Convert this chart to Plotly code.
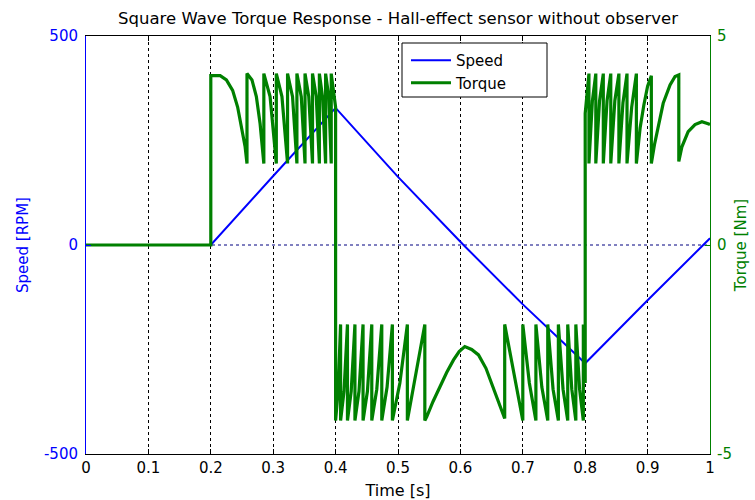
import plotly.graph_objects as go

# ---- data ----
time_ticks = [0, 0.1, 0.2, 0.3, 0.4, 0.5, 0.6, 0.7, 0.8, 0.9, 1.0]
time_labels = ["0", "0.1", "0.2", "0.3", "0.4", "0.5", "0.6", "0.7", "0.8", "0.9", "1"]
speed_ticks = [-500, 0, 500]
speed_labels = ["-500", "0", "500"]
torque_ticks = [-5, 0, 5]
torque_labels = ["-5", "0", "5"]

speed_t = [0, 0.2, 0.3, 0.4, 0.5, 0.605, 0.7, 0.8, 0.9, 1.0]
speed_v = [0, 0, 165, 328, 163, 0, -142, -283, -132, 16]

torque_t = [
    0, 0.2, 0.2, 0.215, 0.225, 0.235, 0.243, 0.25, 0.255, 0.258,
    0.258, 0.266, 0.273, 0.279, 0.285,
    0.285, 0.295, 0.305, 0.305, 0.314, 0.323, 0.323, 0.331, 0.338, 0.338, 0.345, 0.351,
    0.351, 0.357, 0.363, 0.363, 0.369, 0.374, 0.374, 0.379, 0.384, 0.384, 0.389, 0.393,
    0.393, 0.397, 0.4,
    0.4, 0.404, 0.408, 0.408, 0.4135, 0.419, 0.419, 0.425, 0.431, 0.431, 0.4375, 0.444,
    0.444, 0.451, 0.458,
    0.458, 0.466, 0.474, 0.474, 0.4825, 0.491, 0.491, 0.503, 0.515, 0.515, 0.529, 0.543, 0.543,
    0.546, 0.556, 0.567, 0.578, 0.589, 0.598, 0.607, 0.618, 0.629, 0.641, 0.652, 0.662, 0.671,
    0.671, 0.6855, 0.700, 0.700, 0.7105, 0.721, 0.721, 0.7305, 0.740, 0.740, 0.7485, 0.757,
    0.757, 0.7645, 0.772, 0.772, 0.7785, 0.785, 0.785, 0.791, 0.797, 0.797, 0.8,
    0.8, 0.806, 0.806, 0.8115, 0.817, 0.817, 0.823, 0.829, 0.829, 0.835, 0.841, 0.841,
    0.8475, 0.854, 0.854, 0.8605, 0.867, 0.867, 0.8745, 0.882, 0.882,
    0.888, 0.894, 0.900, 0.906, 0.906, 0.911, 0.917, 0.925, 0.936, 0.944, 0.950, 0.950,
    0.955, 0.965, 0.976, 0.987, 0.997, 1.0,
]
torque_v = [
    0, 0, 4.05, 4.05, 3.95, 3.7, 3.3, 2.8, 2.35, 1.95,
    4.1, 3.95, 3.55, 2.9, 1.95,
    4.1, 3.55, 1.95, 4.1, 3.55, 1.95, 4.1, 3.55, 1.95, 4.1, 3.55, 1.95,
    4.1, 3.55, 1.95, 4.1, 3.55, 1.95, 4.1, 3.55, 1.95, 4.1, 3.55, 1.95,
    4.1, 3.6, 3.3,
    -4.2, -3.5, -1.9, -4.2, -3.5, -1.9, -4.2, -3.5, -1.9, -4.2, -3.5, -1.9,
    -4.2, -3.5, -1.9,
    -4.2, -3.45, -1.9, -4.2, -3.4, -1.9, -4.2, -3.3, -1.9, -4.2, -3.1, -1.9, -4.2,
    -4.11, -3.75, -3.39, -3.05, -2.75, -2.55, -2.43, -2.5, -2.63, -2.95, -3.39, -3.8, -4.15,
    -1.9, -3.1, -4.2, -1.9, -3.3, -4.2, -1.9, -3.4, -4.2, -1.9, -3.45, -4.2,
    -1.9, -3.45, -4.2, -1.9, -3.45, -4.2, -1.9, -3.45, -4.2, -1.9, -3.3,
    3.15, 4.1, 1.95, 3.45, 4.1, 1.95, 3.45, 4.1, 1.95, 3.45, 4.1, 1.95,
    3.45, 4.1, 1.95, 3.4, 4.1, 1.95, 3.3, 4.1, 1.95,
    2.8, 3.35, 3.8, 4.05, 1.95, 2.4, 2.83, 3.39, 3.83, 4.03, 4.07, 2.0,
    2.35, 2.71, 2.88, 2.95, 2.9, 2.88,
]

zero_t = [0, 1]
zero_v = [0, 0]

BLUE = "#0000ff"
GREEN = "#008000"
FONT = "DejaVu Sans"

# plot-area geometry (pixels) used for the legend frame
L, R, T, B = 86, 710, 36, 454
PW, PH = R - L, B - T

fig = go.Figure()
fig.add_trace(go.Scatter(x=zero_t, y=zero_v, mode="lines", showlegend=False,
                         line=dict(color="#000080", width=1, dash="3px,3px"),
                         hoverinfo="skip"))
fig.add_trace(go.Scatter(x=speed_t, y=speed_v, mode="lines", name="Speed",
                         line=dict(color=BLUE, width=2)))
fig.add_trace(go.Scatter(x=torque_t, y=torque_v, mode="lines", name="Torque",
                         yaxis="y2", line=dict(color=GREEN, width=3.2)))

# legend frame (white box with black border)
fig.add_shape(type="rect", xref="paper", yref="paper", layer="above",
              x0=(402 - L) / PW, x1=(547 - L) / PW,
              y0=(B - 97) / PH, y1=(B - 43) / PH,
              line=dict(color="black", width=1), fillcolor="white")

fig.update_layout(
    width=755, height=500,
    margin=dict(l=L, r=755 - R, t=T, b=500 - B, autoexpand=False),
    paper_bgcolor="white", plot_bgcolor="white",
    font=dict(family=FONT, size=15, color="black"),
    title=dict(text="Square Wave Torque Response - Hall-effect sensor without observer",
               x=0.5, xref="paper", xanchor="center",
               y=1 - 18 / 500, yref="container", yanchor="middle",
               font=dict(family=FONT, size=16.5, color="black")),
    xaxis=dict(range=[0, 1], tickvals=time_ticks, ticktext=time_labels,
               showline=True, linecolor="black", linewidth=1, mirror="ticks",
               ticks="inside", ticklen=5, tickcolor="black",
               showgrid=True, gridcolor="black", gridwidth=1, griddash="3px,3px",
               zeroline=False, tickfont=dict(size=15, color="black"), automargin=False,
               title=dict(text="Time [s]", font=dict(size=16, color="black"), standoff=10)),
    yaxis=dict(range=[-500, 500], tickvals=speed_ticks, ticktext=speed_labels,
               showline=True, linecolor=BLUE, linewidth=1,
               ticks="inside", ticklen=5, tickcolor=BLUE,
               showgrid=False, zeroline=False, ticklabelstandoff=4, automargin=False,
               tickfont=dict(size=15, color=BLUE),
               title=dict(text="Speed [RPM]", font=dict(size=15, color=BLUE), standoff=11)),
    yaxis2=dict(range=[-5, 5], tickvals=torque_ticks, ticktext=torque_labels,
                overlaying="y", side="right",
                showline=True, linecolor=GREEN, linewidth=1,
                ticks="inside", ticklen=5, tickcolor=GREEN,
                showgrid=False, zeroline=False, ticklabelstandoff=3, automargin=False,
                tickfont=dict(size=15, color=GREEN),
                title=dict(text="Torque [Nm]", font=dict(size=15, color=GREEN), standoff=4)),
    legend=dict(x=(406 - L) / PW, y=(B - 44) / PH, xanchor="left", yanchor="top",
                bgcolor="rgba(0,0,0,0)", borderwidth=0,
                font=dict(size=15, color="black"), itemwidth=40),
    showlegend=True,
)

fig.write_html("out.html")
